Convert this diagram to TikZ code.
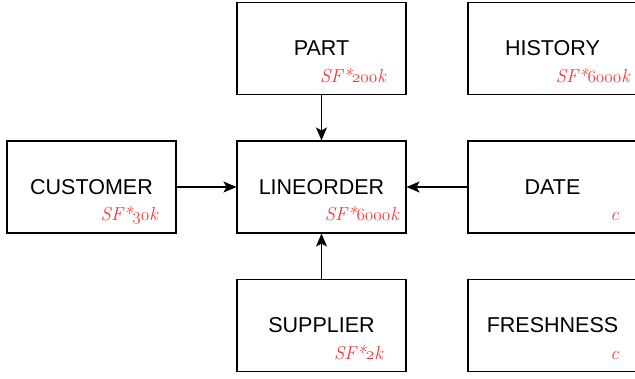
\documentclass[tikz,border=0pt]{standalone}
\usepackage{fontspec}
\setsansfont{Liberation Sans}
\usetikzlibrary{arrows.meta}
\definecolor{sizered}{HTML}{FF3333}
% old-style figures taken from the math italic font
\newcommand\osnum[1]{{\usefont{OML}{cmm}{m}{it}#1}}
\tikzset{
  table/.style={draw=black, line width=1.1pt, minimum width=169pt, minimum height=92pt,
    inner sep=0pt, font=\sffamily\fontsize{21.5}{25}\selectfont},
  size/.style={text=sizered, inner sep=0pt, font=\rmfamily\itshape\fontsize{18.8}{22}\selectfont},
  link/.style={line width=1.1pt, -{Stealth[length=13pt,width=11pt,inset=3pt]}}
}
\begin{document}
\begin{tikzpicture}[x=1pt,y=-1pt]
  \useasboundingbox (0,0) rectangle (635,378);
  \node[table] (part) at (321.5,48.5) {PART};
  \node[table] (history) at (552.5,48.5) {HISTORY};
  \node[table] (customer) at (91.5,187) {CUSTOMER};
  \node[table] (lineorder) at (321.5,187) {LINEORDER};
  \node[table] (date) at (552.5,187) {DATE};
  \node[table] (supplier) at (321.5,325.5) {SUPPLIER};
  \node[table] (freshness) at (552.5,325.5) {FRESHNESS};

  \node[size, anchor=base east] (partsize) at (386,82) {SF*\osnum{200}k};
  \node[size, anchor=base east] (historysize) at (630,82) {SF*\osnum{6000}k};
  \node[size, anchor=base east] (customersize) at (158,220) {SF*\osnum{30}k};
  \node[size, anchor=base east] (lineordersize) at (399,220) {SF*\osnum{6000}k};
  \node[size, anchor=base east] (datesize) at (619,220) {c};
  \node[size, anchor=base east] (suppliersize) at (383,359) {SF*\osnum{2}k};
  \node[size, anchor=base east] (freshnesssize) at (619,359) {c};

  \draw[link] (part) -- (lineorder);
  \draw[link] (customer) -- (lineorder);
  \draw[link] (date) -- (lineorder);
  \draw[link] (supplier) -- (lineorder);
\end{tikzpicture}
\end{document}
